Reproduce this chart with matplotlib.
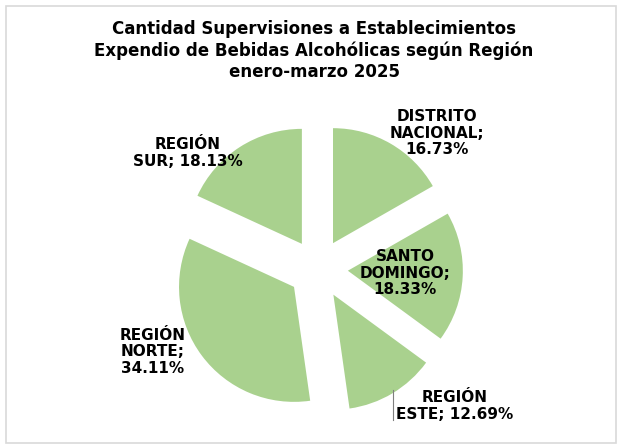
import matplotlib.pyplot as plt
from matplotlib.patches import Rectangle

# datos
regiones = ['Distrito Nacional', 'Santo Domingo', 'Región Este', 'Región Norte', 'Región Sur']
porcentajes = [16.73, 18.33, 12.69, 34.11, 18.13]
etiquetas = ['DISTRITO\nNACIONAL;\n16.73%',
             'SANTO\nDOMINGO;\n18.33%',
             'REGIÓN\nESTE; 12.69%',
             'REGIÓN\nNORTE;\n34.11%',
             'REGIÓN\nSUR; 18.13%']

titulo = ('Cantidad Supervisiones a Establecimientos\n'
          'Expendio de Bebidas Alcohólicas según Región\n'
          'enero-marzo 2025')

verde = '#A9D18E'

fig = plt.figure(figsize=(6.22, 4.48), dpi=100)
fig.patches.append(Rectangle((0.009, 0.011), 0.982, 0.975, transform=fig.transFigure,
                             fill=False, edgecolor='#D9D9D9', linewidth=1.2))

fig.text(0.505, 0.82, titulo, ha='center', va='bottom', fontsize=12,
         fontweight='bold', linespacing=1.2)

# axes posicionado para que el pie quede como en la referencia
ax = fig.add_axes([0.2339, 0.0145, 0.5547, 0.770])
ax.pie(porcentajes, startangle=90, counterclock=False, colors=[verde] * 5,
       explode=[0.26] * 5, radius=1.0, wedgeprops=dict(linewidth=0))
ax.set_xlim(-1.5, 1.5)
ax.set_ylim(-1.5, 1.5)
ax.set_aspect('equal')
ax.axis('off')

# posiciones de etiquetas (unidades de datos)
pos = [(1.035, 1.18), (0.757, -0.035), (1.19, -1.19), (-1.44, -0.72), (-1.13, 1.01)]
for (x, y), t in zip(pos, etiquetas):
    ax.text(x, y, t, ha='center', va='center', fontsize=11, fontweight='bold',
            linespacing=1.12)

# línea guía de Región Este
ax.plot([0.652, 0.652], [-1.05, -1.31], color='#7F7F7F', linewidth=0.8, clip_on=False)

fig.savefig('out.png', dpi=100)
